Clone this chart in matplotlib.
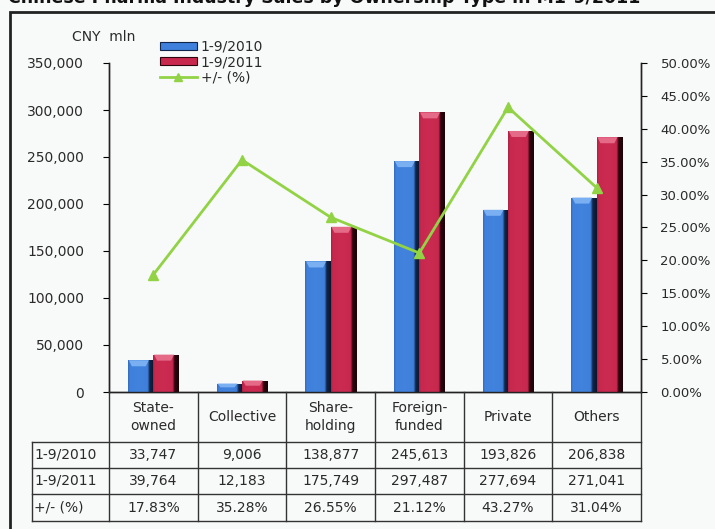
import numpy as np
import matplotlib
matplotlib.use('Agg')
import matplotlib.pyplot as plt
from matplotlib.patches import Polygon, Rectangle
from matplotlib.lines import Line2D
from matplotlib.colors import to_rgb

# sales by ownership type, CNY mln
categories = ['State-\nowned', 'Collective', 'Share-\nholding', 'Foreign-\nfunded', 'Private', 'Others']
sales_2010 = [33747, 9006, 138877, 245613, 193826, 206838]
sales_2011 = [39764, 12183, 175749, 297487, 277694, 271041]
growth_pct = [17.83, 35.28, 26.55, 21.12, 43.27, 31.04]
series_names = ['1-9/2010', '1-9/2011', '+/- (%)']
title = 'Chinese Pharma Industry Sales by Ownership Type in M1-9/2011'

W, H = 715, 529
bg = '#f8f9f9'


def fx(x):
    return x / W


def fy(y):
    return 1 - y / H


fig = plt.figure(figsize=(W / 100, H / 100), dpi=100, facecolor=bg)
plt.rcParams['font.family'] = ['DejaVu Sans']
txt = '#2a2a2a'

ax = fig.add_axes([fx(109), fy(392), fx(641) - fx(109), fy(63) - fy(392)])
ax.set_facecolor(bg)
ax2 = ax.twinx()

x = np.arange(len(categories))
bw = 0.285
bars1 = ax.bar(x - bw / 2, sales_2010, bw, color='#3f80dc', zorder=2)
bars2 = ax.bar(x + bw / 2, sales_2011, bw, color='#c9284e', zorder=2)

ax.set_xlim(-0.5, len(categories) - 0.5)
ax.set_ylim(0, 350000)
data_per_px = 350000 / 329.0


def shade(rect, base, light, dark):
    # fake bevel: horizontal gradient plus a light cap on top
    x0, y0, w, h = rect.get_x(), rect.get_y(), rect.get_width(), rect.get_height()
    b, l, d = np.array(to_rgb(base)), np.array(to_rgb(light)), np.array(to_rgb(dark))
    pos = [0.0, 0.07, 0.4, 0.76, 0.84, 1.0]
    cols = [b * 0.85, b, b * 0.95 + l * 0.05, b, d, d * 0.6]
    t = np.linspace(0, 1, 60)
    grad = np.stack([np.interp(t, pos, [c[i] for c in cols]) for i in range(3)], axis=-1)
    im = ax.imshow(grad[np.newaxis, :, :], extent=(x0, x0 + w, y0, y0 + h),
                   aspect='auto', zorder=3, interpolation='bilinear')
    im.set_clip_path(rect)
    cap = min(6 * data_per_px, h * 0.45)
    top = y0 + h
    ax.add_patch(Polygon([(x0 + w * 0.03, top), (x0 + w * 0.82, top),
                          (x0 + w * 0.70, top - cap), (x0 + w * 0.15, top - cap)],
                         closed=True, color=l, lw=0, zorder=4))


for r in bars1:
    shade(r, '#3f80dc', '#7ab0f2', '#10264a')
for r in bars2:
    shade(r, '#c9284e', '#e46a88', '#2e050e')

ax.set_xlim(-0.5, len(categories) - 0.5)
ax.set_ylim(0, 350000)
ax.set_yticks(np.arange(0, 350001, 50000))
ax.set_yticklabels([f'{v:,}' for v in np.arange(0, 350001, 50000)])
ax.set_xticks([])
ax.tick_params(axis='y', direction='out', length=4, pad=14, labelsize=10, labelcolor=txt)

ax2.plot(x, [g / 100 for g in growth_pct], color='#92d345', lw=2.0,
         marker='^', markersize=7, zorder=5)
ax2.set_ylim(0, 0.5)
ax2.set_yticks(np.arange(0, 0.5001, 0.05))
ax2.set_yticklabels([f'{v * 100:.2f}%' for v in np.arange(0, 0.5001, 0.05)])
ax2.tick_params(axis='y', direction='out', length=4, pad=10, labelsize=9.5, labelcolor=txt)

for a in (ax, ax2):
    a.spines['top'].set_visible(False)
    for s in ('left', 'right', 'bottom'):
        a.spines[s].set_color('#222222')
        a.spines[s].set_linewidth(1.0)

# y-axis unit label
fig.text(fx(72), fy(37), 'CNY  mln', fontsize=10, color=txt, va='center')

handles = [Rectangle((0, 0), 1, 1, facecolor='#3f80dc', edgecolor='#10264a', lw=0.8),
           Rectangle((0, 0), 1, 1, facecolor='#c9284e', edgecolor='#2e050e', lw=0.8),
           Line2D([], [], color='#92d345', lw=2.0, marker='^', markersize=6)]
fig.legend(handles, series_names, loc='upper left', bbox_to_anchor=(fx(150), fy(30)),
           frameon=False, fontsize=10, handlelength=2.7, handleheight=0.55,
           handletextpad=0.25, labelspacing=0.1, borderpad=0.2, labelcolor=txt)

# data table under the axis
col_w = (641 - 109) / len(categories)
edges = [109 + k * col_w for k in range(len(categories) + 1)]
lc = '#333333'
for e in edges:
    fig.add_artist(Line2D([fx(e), fx(e)], [fy(392), fy(521)], color=lc, lw=1.0))
fig.add_artist(Line2D([fx(32), fx(32)], [fy(442), fy(521)], color=lc, lw=1.0))
for yy in (442, 468, 494, 521):
    fig.add_artist(Line2D([fx(32), fx(641)], [fy(yy), fy(yy)], color=lc, lw=1.0))

for i, c in enumerate(categories):
    cx = (edges[i] + edges[i + 1]) / 2
    fig.text(fx(cx), fy(417), c, ha='center', va='center', fontsize=10,
             color=txt, linespacing=1.35)

rows = [
    (series_names[0], [f'{v:,}' for v in sales_2010]),
    (series_names[1], [f'{v:,}' for v in sales_2011]),
    (series_names[2], [f'{v:.2f}%' for v in growth_pct]),
]
row_mid = [455, 481, 507.5]
for (lab, vals), ym in zip(rows, row_mid):
    fig.text(fx(34), fy(ym), lab, ha='left', va='center', fontsize=10, color=txt)
    for i, v in enumerate(vals):
        cx = (edges[i] + edges[i + 1]) / 2
        fig.text(fx(cx), fy(ym), v, ha='center', va='center', fontsize=10, color=txt)

# outer chart frame and the title sitting above it
fig.add_artist(Rectangle((fx(10), fy(540)), fx(720) - fx(10), fy(12) - fy(540),
                         fill=False, edgecolor='#222222', lw=2.0))
fig.text(fx(8), fy(3), title, ha='left', va='baseline', fontsize=12.5,
         fontweight='bold', color='#111111')

fig.savefig('out.png', dpi=100, facecolor=bg)
